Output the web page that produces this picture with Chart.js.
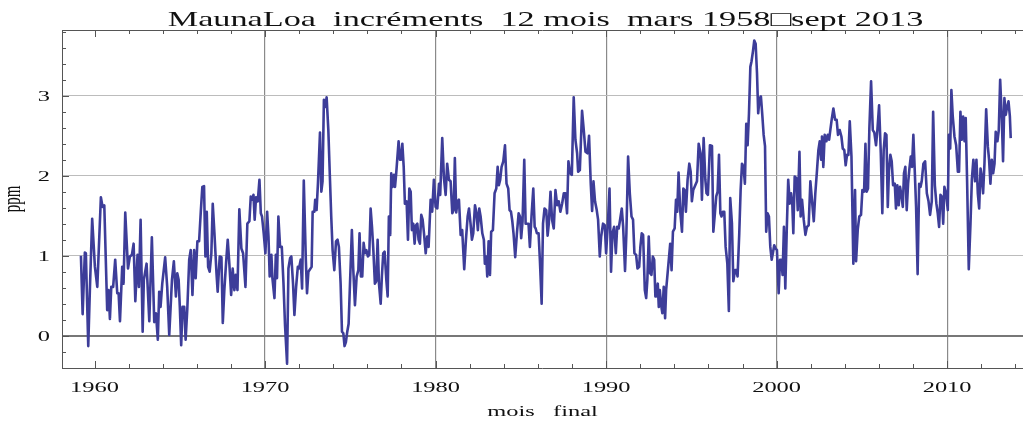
<!DOCTYPE html>
<html>
<head>
<meta charset="utf-8">
<script src="https://cdn.jsdelivr.net/npm/chart.js@4/dist/chart.umd.min.js"></script>
<style>
  html, body { margin: 0; padding: 0; background: #fff; }
  #wrap { width: 1023px; height: 425px; }
</style>
</head>
<body>
<div id="wrap"><canvas id="co2Chart" width="1023" height="425"></canvas></div>
<script>
// final month of each 12-month window (decimal year)
const monthYear = [
  1959.20, 1959.30, 1959.43, 1959.49, 1959.63, 1959.73, 1959.86, 1960.02, 1960.16, 1960.37,
  1960.47, 1960.57, 1960.74, 1960.82, 1960.90, 1960.98, 1961.09, 1961.21, 1961.33, 1961.41,
  1961.49, 1961.62, 1961.70, 1961.80, 1961.96, 1962.07, 1962.19, 1962.29, 1962.39, 1962.52,
  1962.60, 1962.70, 1962.82, 1962.89, 1963.05, 1963.21, 1963.36, 1963.50, 1963.60, 1963.71,
  1963.79, 1963.87, 1963.97, 1964.14, 1964.26, 1964.38, 1964.54, 1964.65, 1964.77, 1964.85,
  1964.93, 1965.00, 1965.08, 1965.16, 1965.26, 1965.34, 1965.44, 1965.55,
  1965.64, 1965.74, 1965.84, 1965.93, 1966.03, 1966.13, 1966.23, 1966.32, 1966.42, 1966.50,
  1966.58, 1966.66, 1966.75, 1966.85, 1966.93, 1967.03, 1967.15, 1967.22, 1967.34, 1967.44,
  1967.52, 1967.61, 1967.71, 1967.81, 1967.91, 1968.01, 1968.10, 1968.20, 1968.28, 1968.38,
  1968.49, 1968.61, 1968.71, 1968.85, 1968.96, 1969.08, 1969.16, 1969.26, 1969.32, 1969.39,
  1969.47, 1969.57, 1969.67, 1969.75, 1969.82, 1969.92, 1970.02, 1970.12, 1970.20, 1970.27,
  1970.37, 1970.43, 1970.55, 1970.63, 1970.70, 1970.78, 1970.88, 1970.98, 1971.08, 1971.17,
  1971.29, 1971.37, 1971.47, 1971.54, 1971.64, 1971.72, 1971.82, 1971.92, 1971.99, 1972.09,
  1972.17, 1972.27, 1972.39, 1972.46, 1972.54,
  1972.73, 1972.79, 1972.89, 1972.94, 1973.02, 1973.10, 1973.22, 1973.30, 1973.37, 1973.45,
  1973.53, 1973.61, 1973.71, 1973.80, 1973.88, 1973.96, 1974.06, 1974.16, 1974.25, 1974.33,
  1974.43, 1974.51, 1974.59, 1974.66, 1974.74, 1974.82, 1974.90, 1974.98, 1975.09, 1975.17,
  1975.27, 1975.37, 1975.47, 1975.54, 1975.62, 1975.70, 1975.78, 1975.86, 1975.94, 1976.03,
  1976.11, 1976.19, 1976.27, 1976.35, 1976.44, 1976.52, 1976.60, 1976.68, 1976.78, 1976.85,
  1976.93, 1977.01, 1977.11, 1977.19, 1977.26, 1977.34, 1977.40, 1977.48, 1977.56, 1977.62,
  1977.69, 1977.75, 1977.83, 1977.91, 1977.97, 1978.05, 1978.13, 1978.20, 1978.30, 1978.38,
  1978.46, 1978.54, 1978.61, 1978.69, 1978.77, 1978.85, 1978.93, 1979.00, 1979.08, 1979.16,
  1979.24, 1979.32, 1979.42, 1979.51, 1979.59,
  1979.71, 1979.80, 1979.90, 1980.00, 1980.10, 1980.20, 1980.27, 1980.39, 1980.49, 1980.59,
  1980.68, 1980.78, 1980.88, 1980.98, 1981.06, 1981.13, 1981.21, 1981.29, 1981.37, 1981.47,
  1981.56, 1981.68, 1981.78, 1981.88, 1981.96, 1982.05, 1982.13, 1982.21, 1982.31, 1982.40,
  1982.48, 1982.56, 1982.64, 1982.74, 1982.83, 1982.89, 1982.97, 1983.03, 1983.11, 1983.19,
  1983.26, 1983.36, 1983.46, 1983.56, 1983.64, 1983.71, 1983.79, 1983.87, 1983.97, 1984.07,
  1984.16, 1984.26, 1984.34, 1984.42, 1984.50, 1984.57, 1984.67, 1984.77, 1984.87, 1984.95,
  1985.02, 1985.10, 1985.20, 1985.28, 1985.38, 1985.45, 1985.53, 1985.63, 1985.73, 1985.81,
  1985.87, 1985.94, 1986.04, 1986.12, 1986.22, 1986.30, 1986.39, 1986.49, 1986.57,
  1986.64, 1986.74, 1986.83, 1986.93, 1987.03, 1987.13, 1987.22, 1987.32, 1987.42, 1987.52,
  1987.61, 1987.71, 1987.79, 1987.89, 1987.99, 1988.10, 1988.20, 1988.30, 1988.36, 1988.46,
  1988.59, 1988.69, 1988.79, 1988.91, 1989.00, 1989.10, 1989.18, 1989.26, 1989.35, 1989.45,
  1989.53, 1989.63, 1989.71, 1989.82, 1989.92, 1990.00, 1990.10, 1990.20, 1990.29, 1990.37,
  1990.47, 1990.57, 1990.65, 1990.74, 1990.82, 1990.92, 1991.00, 1991.11, 1991.19, 1991.29,
  1991.39, 1991.49, 1991.58, 1991.66, 1991.76, 1991.84, 1991.94, 1992.01, 1992.09, 1992.17,
  1992.27, 1992.35, 1992.42, 1992.50, 1992.58, 1992.66, 1992.74, 1992.82, 1992.89, 1992.95,
  1993.03, 1993.09, 1993.15, 1993.23, 1993.30, 1993.38, 1993.46, 1993.52,
  1993.76, 1993.84, 1993.92, 1994.02, 1994.10, 1994.17, 1994.25, 1994.35, 1994.45, 1994.53,
  1994.60, 1994.68, 1994.78, 1994.88, 1994.96, 1995.03, 1995.11, 1995.23, 1995.33, 1995.43,
  1995.54, 1995.62, 1995.72, 1995.82, 1995.89, 1995.97, 1996.09, 1996.21, 1996.29, 1996.38,
  1996.46, 1996.54, 1996.62, 1996.70, 1996.77, 1996.85, 1996.93, 1997.01, 1997.11, 1997.20,
  1997.28, 1997.38, 1997.46, 1997.56, 1997.63, 1997.71, 1997.81, 1997.89, 1997.97, 1998.06,
  1998.14, 1998.22, 1998.30, 1998.38, 1998.46, 1998.53, 1998.61, 1998.69, 1998.77, 1998.85,
  1998.92, 1999.00, 1999.08, 1999.16, 1999.24, 1999.32, 1999.39, 1999.47, 1999.55, 1999.63,
  1999.71, 1999.78, 1999.86, 1999.94, 2000.02, 2000.12, 2000.20, 2000.27, 2000.35, 2000.43,
  2000.51, 2000.59, 2000.68,
  2000.77, 2000.85, 2000.92, 2000.98, 2001.06, 2001.16, 2001.24, 2001.34, 2001.41, 2001.49,
  2001.59, 2001.69, 2001.78, 2001.88, 2001.98, 2002.08, 2002.18, 2002.27, 2002.37, 2002.45,
  2002.53, 2002.61, 2002.66, 2002.74, 2002.82, 2002.92, 2003.00, 2003.08, 2003.15, 2003.23,
  2003.33, 2003.43, 2003.52, 2003.60, 2003.70, 2003.80, 2003.88, 2003.97, 2004.05, 2004.13,
  2004.21, 2004.29, 2004.39, 2004.50, 2004.60, 2004.66, 2004.76, 2004.85, 2004.95, 2005.03,
  2005.13, 2005.21, 2005.28, 2005.36, 2005.44, 2005.54, 2005.64, 2005.73, 2005.83, 2005.91,
  2006.01, 2006.11, 2006.20, 2006.28, 2006.36, 2006.44, 2006.52, 2006.59, 2006.67, 2006.75,
  2006.83, 2006.93, 2007.00, 2007.08, 2007.16, 2007.24, 2007.32, 2007.40, 2007.47, 2007.55,
  2007.63, 2007.71, 2007.79, 2007.87, 2007.94, 2008.02, 2008.10, 2008.18, 2008.27,
  2008.36, 2008.44, 2008.51, 2008.61, 2008.71, 2008.81, 2008.91, 2009.00, 2009.10, 2009.18,
  2009.28, 2009.37, 2009.45, 2009.53, 2009.61, 2009.69, 2009.77, 2009.84, 2009.94, 2010.04,
  2010.10, 2010.18, 2010.25, 2010.33, 2010.43, 2010.53, 2010.63, 2010.70, 2010.78, 2010.86,
  2010.94, 2011.02, 2011.09, 2011.17, 2011.27, 2011.37, 2011.45, 2011.54, 2011.64, 2011.72,
  2011.80, 2011.88, 2011.96, 2012.03, 2012.11, 2012.19, 2012.29, 2012.39, 2012.46, 2012.54,
  2012.62, 2012.70, 2012.78, 2012.85, 2012.95, 2013.03, 2013.11, 2013.21, 2013.28, 2013.36,
  2013.44, 2013.52, 2013.60, 2013.68, 2013.73
];

// 12-month CO2 increment, ppm
const incrementPpm = [
  1.00, 0.27, 1.04, 1.03, -0.13, 0.61, 1.46, 0.86, 0.61, 1.73,
  1.61, 1.63, 0.32, 0.57, 0.21, 0.61, 0.61, 0.95, 0.53, 0.53,
  0.18, 0.86, 0.65, 1.54, 0.84, 0.99, 1.01, 1.15, 0.43, 1.01,
  0.61, 1.45, 0.05, 0.70, 0.90, 0.18, 1.23, 0.17, 0.28, -0.05,
  0.55, 0.36, 0.65, 0.98, 0.61, 0.01, 0.70, 0.93, 0.49, 0.78,
  0.70, 0.36, -0.12, 0.36, 0.36, -0.05, 0.34, 0.95,
  1.07, 0.51, 1.07, 0.72, 1.18, 1.18, 1.55, 1.86, 1.87, 0.99,
  1.55, 0.86, 0.80, 1.03, 1.65, 1.28, 0.78, 0.55, 0.99, 0.98,
  0.16, 0.57, 0.90, 1.20, 0.88, 0.51, 0.84, 0.57, 0.76, 0.57,
  1.58, 1.09, 1.03, 0.61, 1.40, 1.43, 1.74, 1.70, 1.76, 1.45,
  1.73, 1.68, 1.95, 1.53, 1.49, 1.28, 1.03, 1.55, 1.24, 0.74,
  1.01, 0.72, 0.47, 1.01, 0.72, 1.49, 1.11, 1.11, 0.65, 0.13,
  -0.35, 0.84, 0.97, 0.99, 0.65, 0.26, 0.61, 0.86, 0.84, 0.95,
  0.59, 1.94, 0.95, 0.53, 0.80,
  0.86, 1.55, 1.55, 1.70, 1.57, 1.90, 2.54, 1.80, 1.93, 2.95,
  2.86, 2.98, 2.57, 1.99, 1.49, 1.07, 0.82, 1.18, 1.20, 1.11,
  0.65, 0.05, 0.03, -0.13, -0.08, 0.05, 0.15, 0.65, 1.32, 0.84,
  0.38, 0.74, 0.82, 1.28, 0.74, 0.74, 1.16, 1.03, 1.07, 0.99,
  1.01, 1.59, 1.36, 1.07, 0.65, 0.68, 1.20, 0.65, 0.40, 0.74,
  1.03, 1.05, 0.70, 0.49, 1.49, 1.26, 2.03, 1.86, 2.01, 1.86,
  2.03, 2.20, 2.43, 2.20, 2.20, 2.40, 2.11, 1.65, 1.68, 1.20,
  1.84, 1.80, 1.32, 1.40, 1.15, 1.38, 1.40, 1.20, 1.15, 1.51,
  1.45, 1.28, 1.03, 1.24, 1.11,
  1.70, 1.55, 1.95, 1.61, 1.59, 1.90, 1.76, 2.47, 1.97, 1.76,
  2.15, 1.95, 1.93, 1.53, 1.57, 2.22, 1.54, 1.68, 1.70, 1.26,
  1.32, 0.83, 1.20, 1.49, 1.59, 1.40, 1.20, 1.28, 1.63, 1.53,
  1.32, 1.59, 1.49, 1.28, 1.20, 0.90, 0.99, 0.74, 1.18, 0.76,
  1.30, 1.32, 1.78, 1.84, 2.11, 1.88, 1.95, 2.11, 2.18, 2.38,
  1.90, 1.84, 1.57, 1.55, 1.43, 1.28, 0.98, 1.28, 1.53, 1.49,
  1.22, 1.43, 2.20, 1.40, 1.40, 1.40, 1.11, 1.51, 1.84, 1.36,
  1.34, 1.28, 1.28, 0.93, 0.40, 1.40, 1.59, 1.57, 1.25,
  1.40, 1.80, 1.45, 1.34, 1.82, 1.63, 1.68, 1.55, 1.65, 1.78,
  1.78, 1.53, 2.18, 2.03, 2.01, 2.98, 2.45, 2.28, 2.05, 2.07,
  2.81, 2.57, 2.30, 2.28, 2.50, 1.90, 1.56, 1.93, 1.68, 1.57,
  1.45, 0.99, 1.24, 1.40, 1.38, 1.03, 1.38, 1.84, 0.80, 1.28,
  1.36, 1.03, 1.36, 1.34, 1.45, 1.59, 1.36, 0.81, 1.28, 2.24,
  1.78, 1.49, 1.45, 1.03, 1.01, 0.84, 0.86, 1.11, 1.28, 1.26,
  0.57, 0.47, 0.70, 1.24, 0.78, 0.76, 0.99, 0.95, 0.49, 0.49,
  0.65, 0.36, 0.57, 0.38, 0.28, 0.61, 0.22, 0.57,
  1.15, 0.82, 1.30, 1.34, 1.70, 1.55, 2.04, 1.55, 1.30, 1.84,
  1.82, 1.55, 1.95, 2.15, 2.05, 1.68, 1.82, 1.88, 1.93, 2.40,
  2.28, 1.70, 2.47, 1.95, 1.78, 1.76, 2.38, 2.37, 1.30, 1.53,
  1.74, 1.80, 2.26, 1.53, 1.49, 1.55, 1.55, 1.11, 0.90, 0.31,
  1.72, 1.40, 0.68, 0.82, 0.82, 0.74, 1.28, 1.82, 2.15, 2.11,
  1.90, 2.65, 2.38, 2.78, 3.36, 3.43, 3.55, 3.69, 3.65, 3.28,
  2.78, 2.97, 2.99, 2.76, 2.51, 2.37, 1.30, 1.53, 1.49, 1.11,
  0.95, 1.03, 1.13, 1.09, 1.07, 0.53, 0.95, 0.95, 0.76, 1.36,
  0.59, 1.28, 1.95,
  1.65, 1.78, 1.65, 1.28, 1.99, 1.97, 1.57, 2.30, 1.49, 1.70,
  1.45, 1.26, 1.36, 1.38, 1.93, 1.68, 1.43, 1.78, 2.07, 2.32,
  2.43, 2.20, 2.49, 2.11, 2.51, 2.43, 2.51, 2.45, 2.57, 2.70,
  2.84, 2.70, 2.70, 2.51, 2.57, 2.49, 2.34, 2.32, 2.13, 2.26,
  2.26, 2.68, 2.24, 0.90, 1.82, 0.93, 1.33, 1.49, 1.51, 1.82,
  1.80, 2.40, 1.80, 1.84, 2.59, 3.18, 2.57, 2.54, 2.38, 2.57,
  2.88, 2.28, 1.53, 2.32, 2.53, 2.51, 1.61, 2.07, 2.26, 2.18,
  1.88, 1.90, 1.59, 1.88, 1.63, 1.86, 1.76, 1.61, 2.03, 2.11,
  1.57, 1.90, 2.09, 2.24, 2.11, 2.51, 2.07, 1.61, 0.77,
  1.90, 1.86, 1.93, 2.15, 2.18, 1.78, 1.68, 1.51, 1.68, 2.80,
  1.88, 1.65, 1.53, 1.36, 1.76, 1.74, 1.40, 1.86, 1.78, 1.57,
  2.51, 2.34, 3.07, 2.74, 2.49, 2.38, 2.05, 2.05, 2.80, 2.45,
  2.74, 2.43, 2.72, 1.95, 0.83, 1.40, 1.95, 2.20, 1.93, 2.20,
  1.78, 1.59, 2.09, 1.99, 1.78, 2.15, 2.83, 2.36, 2.20, 1.90,
  2.20, 2.03, 2.15, 2.55, 2.43, 2.57, 3.20, 2.70, 2.18, 2.97,
  2.76, 2.86, 2.93, 2.74, 2.47
];

const decadeTicks = [1960, 1970, 1980, 1990, 2000, 2010];
const ppmTicks = [0, 1, 2, 3];

const titleText = 'MaunaLoa  incréments  12 mois  mars 1958\u25A1sept 2013';
const xTitle = 'mois   final';
const yTitle = 'ppm';

// the original picture is stretched sideways, so the text is too
const STRETCH = 1.63;
const SERIF = '"Liberation Serif", "Times New Roman", serif';

function stretchedText(ctx, str, x, y, size, align, rot) {
    ctx.save();
    ctx.translate(x, y);
    ctx.scale(STRETCH, 1);
    if (rot) ctx.rotate(rot);
    ctx.font = size + 'px ' + SERIF;
    ctx.textAlign = align;
    ctx.textBaseline = 'alphabetic';
    ctx.fillStyle = '#111';
    ctx.fillText(str, 0, 0);
    ctx.restore();
}

const framePlugin = {
    id: 'mathematicaFrame',
    afterDraw(chart) {
        const { ctx, chartArea: a, scales } = chart;
        const xs = scales.x, ys = scales.y;

        ctx.save();
        ctx.strokeStyle = '#555';
        ctx.lineWidth = 1;
        // top frame
        ctx.beginPath();
        ctx.moveTo(a.left, a.top + 0.5);
        ctx.lineTo(a.right, a.top + 0.5);
        ctx.stroke();

        // inward ticks on bottom and top, every 2 years
        ctx.beginPath();
        for (let yr = 1960; yr <= 2014; yr += 2) {
            const px = Math.round(xs.getPixelForValue(yr)) + 0.5;
            const len = yr % 10 === 0 ? 7 : 4;
            ctx.moveTo(px, a.bottom);
            ctx.lineTo(px, a.bottom - len);
            ctx.moveTo(px, a.top);
            ctx.lineTo(px, a.top + len);
        }
        // inward ticks on the left, every 0.2 ppm
        for (let k = -2; k <= 19; k++) {
            const py = Math.round(ys.getPixelForValue(k / 5)) + 0.5;
            const len = k % 5 === 0 ? 7 : 4;
            ctx.moveTo(a.left, py);
            ctx.lineTo(a.left + len, py);
        }
        ctx.stroke();
        ctx.restore();

        // texts
        const midX = (a.left + a.right) / 2;
        stretchedText(ctx, titleText, midX + 3, 26, 21, 'center');
        decadeTicks.forEach(v => {
            stretchedText(ctx, String(v), xs.getPixelForValue(v), 392, 15, 'center');
        });
        ppmTicks.forEach(v => {
            stretchedText(ctx, String(v), 50, ys.getPixelForValue(v) + 5, 15, 'right');
        });
        stretchedText(ctx, xTitle, midX, 416, 15, 'center');
        stretchedText(ctx, yTitle, 19.5, (a.top + a.bottom) / 2, 15, 'center', -Math.PI / 2);
    }
};

const points = monthYear.map((t, i) => ({ x: t, y: incrementPpm[i] }));

new Chart(document.getElementById('co2Chart').getContext('2d'), {
    type: 'line',
    data: {
        datasets: [{
            data: points,
            borderColor: '#3d3d99',
            borderWidth: 2.6,
            pointRadius: 0,
            tension: 0,
            fill: false,
            borderJoinStyle: 'round'
        }]
    },
    options: {
        responsive: false,
        animation: false,
        devicePixelRatio: 1,
        layout: { padding: { top: 30, left: 0, right: 0, bottom: 0 } },
        plugins: {
            legend: { display: false },
            title: { display: false },
            tooltip: { enabled: false }
        },
        scales: {
            x: {
                type: 'linear',
                min: 1958.09,
                max: 2014.45,
                afterBuildTicks: s => { s.ticks = decadeTicks.map(v => ({ value: v })); },
                afterFit: s => { s.height = 57; },
                ticks: { display: false },
                grid: {
                    drawTicks: false,
                    color: c => (c.tick && c.tick.value === 1960) ? 'rgba(0,0,0,0)' : '#8a8a8a',
                    lineWidth: 1.2
                },
                border: { display: true, color: '#555', width: 1 }
            },
            y: {
                min: -0.404,
                max: 3.821,
                afterBuildTicks: s => { s.ticks = ppmTicks.map(v => ({ value: v })); },
                afterFit: s => { s.width = 62; },
                ticks: { display: false },
                grid: {
                    drawTicks: false,
                    color: c => (c.tick && c.tick.value === 0) ? '#777' : '#bcbcbc',
                    lineWidth: c => (c.tick && c.tick.value === 0) ? 2 : 1
                },
                border: { display: true, color: '#555', width: 1 }
            }
        }
    },
    plugins: [framePlugin]
});
</script>
</body>
</html>
